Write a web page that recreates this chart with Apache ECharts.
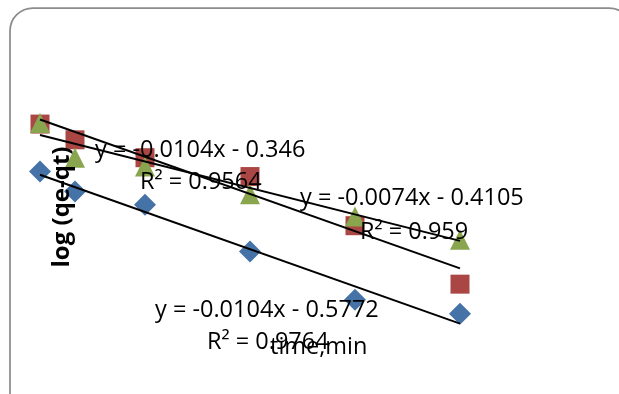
<!DOCTYPE html>
<html>
<head>
<meta charset="utf-8">
<script src="https://cdn.jsdelivr.net/npm/echarts@6/dist/echarts.min.js"></script>
<style>
html, body { margin: 0; padding: 0; background: #ffffff; }
#kinetics { width: 619px; height: 394px; }
</style>
</head>
<body>
<div id="kinetics"></div>
<script>
// time (min) and log(qe-qt) for the three runs
var times = [0, 5, 15, 30, 45, 60];
var blueVals = [-0.564, -0.648, -0.703, -0.899, -1.101, -1.160];
var redVals = [-0.365, -0.431, -0.506, -0.585, -0.791, -1.036];
var greenVals = [-0.360, -0.506, -0.543, -0.659, -0.752, -0.850];

// linear trendlines as printed on the chart (blue, red, green)
var slopes = [-0.0104, -0.0104, -0.0074];
var intercepts = [-0.5772, -0.346, -0.4105];
var eqTexts = ['y = -0.0104x - 0.5772', 'y = -0.0104x - 0.346', 'y = -0.0074x - 0.4105'];
var r2Texts = ['R² = 0.9764', 'R² = 0.9564', 'R² = 0.959'];

var colors = ['#4572A7', '#AA4643', '#89A54E'];
var symbols = ['diamond', 'rect', 'triangle'];
var symbolSizes = [22, 19, 20];
var font = '"Open Sans", "Liberation Sans", sans-serif';

function pairs(vals) {
    var out = [];
    for (var i = 0; i < times.length; i++) out.push([times[i], vals[i]]);
    return out;
}
function trend(k) {
    var x0 = Math.min.apply(null, times), x1 = Math.max.apply(null, times);
    return [[x0, slopes[k] * x0 + intercepts[k]], [x1, slopes[k] * x1 + intercepts[k]]];
}

dom = document.getElementById("kinetics");
myChart = echarts.init(dom, null, {renderer: 'canvas'});
var allVals = [blueVals, redVals, greenVals];
var series = [];
for (var k = 0; k < 3; k++) {
    series.push({
        type: 'scatter',
        data: pairs(allVals[k]),
        symbol: symbols[k],
        symbolSize: symbolSizes[k],
        itemStyle: {color: colors[k], opacity: 1},
        z: 2
    });
}
for (var k = 0; k < 3; k++) {
    series.push({
        type: 'line',
        data: trend(k),
        symbol: 'none',
        lineStyle: {color: '#000000', width: 2},
        z: 3
    });
}

var labelPos = [
    [[155, 310], [207, 342]],
    [[95, 150], [140, 182]],
    [[300, 198], [360, 232]]
];
var graphics = [{
    type: 'rect',
    shape: {x: 10, y: 8, width: 622, height: 420, r: 23},
    style: {fill: 'none', stroke: '#8c8c8c', lineWidth: 1.75},
    z: 0
}];
for (var k = 0; k < 3; k++) {
    graphics.push({
        type: 'text', x: labelPos[k][0][0], y: labelPos[k][0][1], z: 10,
        style: {text: eqTexts[k], font: '23.5px ' + font, fill: '#000', verticalAlign: 'middle'}
    });
    graphics.push({
        type: 'text', x: labelPos[k][1][0], y: labelPos[k][1][1], z: 10,
        style: {text: r2Texts[k], font: '23.5px ' + font, fill: '#000', verticalAlign: 'middle'}
    });
}
graphics.push({
    type: 'text', x: 270, y: 347, z: 10,
    style: {text: 'time,min', font: '23.5px ' + font, fill: '#000', verticalAlign: 'middle'}
});
graphics.push({
    type: 'text', x: 62, y: 207, rotation: Math.PI / 2, z: 10,
    style: {text: 'log (qe-qt)', font: 'bold 24px ' + font, fill: '#000', align: 'center', verticalAlign: 'middle'}
});

option = {
    backgroundColor: '#ffffff',
    animation: false,
    grid: {left: 40, right: 89, top: 37, bottom: 23},
    xAxis: {
        type: 'value', min: 0, max: 70,
        axisLine: {show: false}, axisTick: {show: false},
        axisLabel: {show: false}, splitLine: {show: false}
    },
    yAxis: {
        type: 'value', min: -1.4, max: 0,
        axisLine: {show: false}, axisTick: {show: false},
        axisLabel: {show: false}, splitLine: {show: false}
    },
    graphic: graphics,
    series: series
};
if (option && typeof option === "object") {
    myChart.setOption(option, true);
}
</script>
</body>
</html>
